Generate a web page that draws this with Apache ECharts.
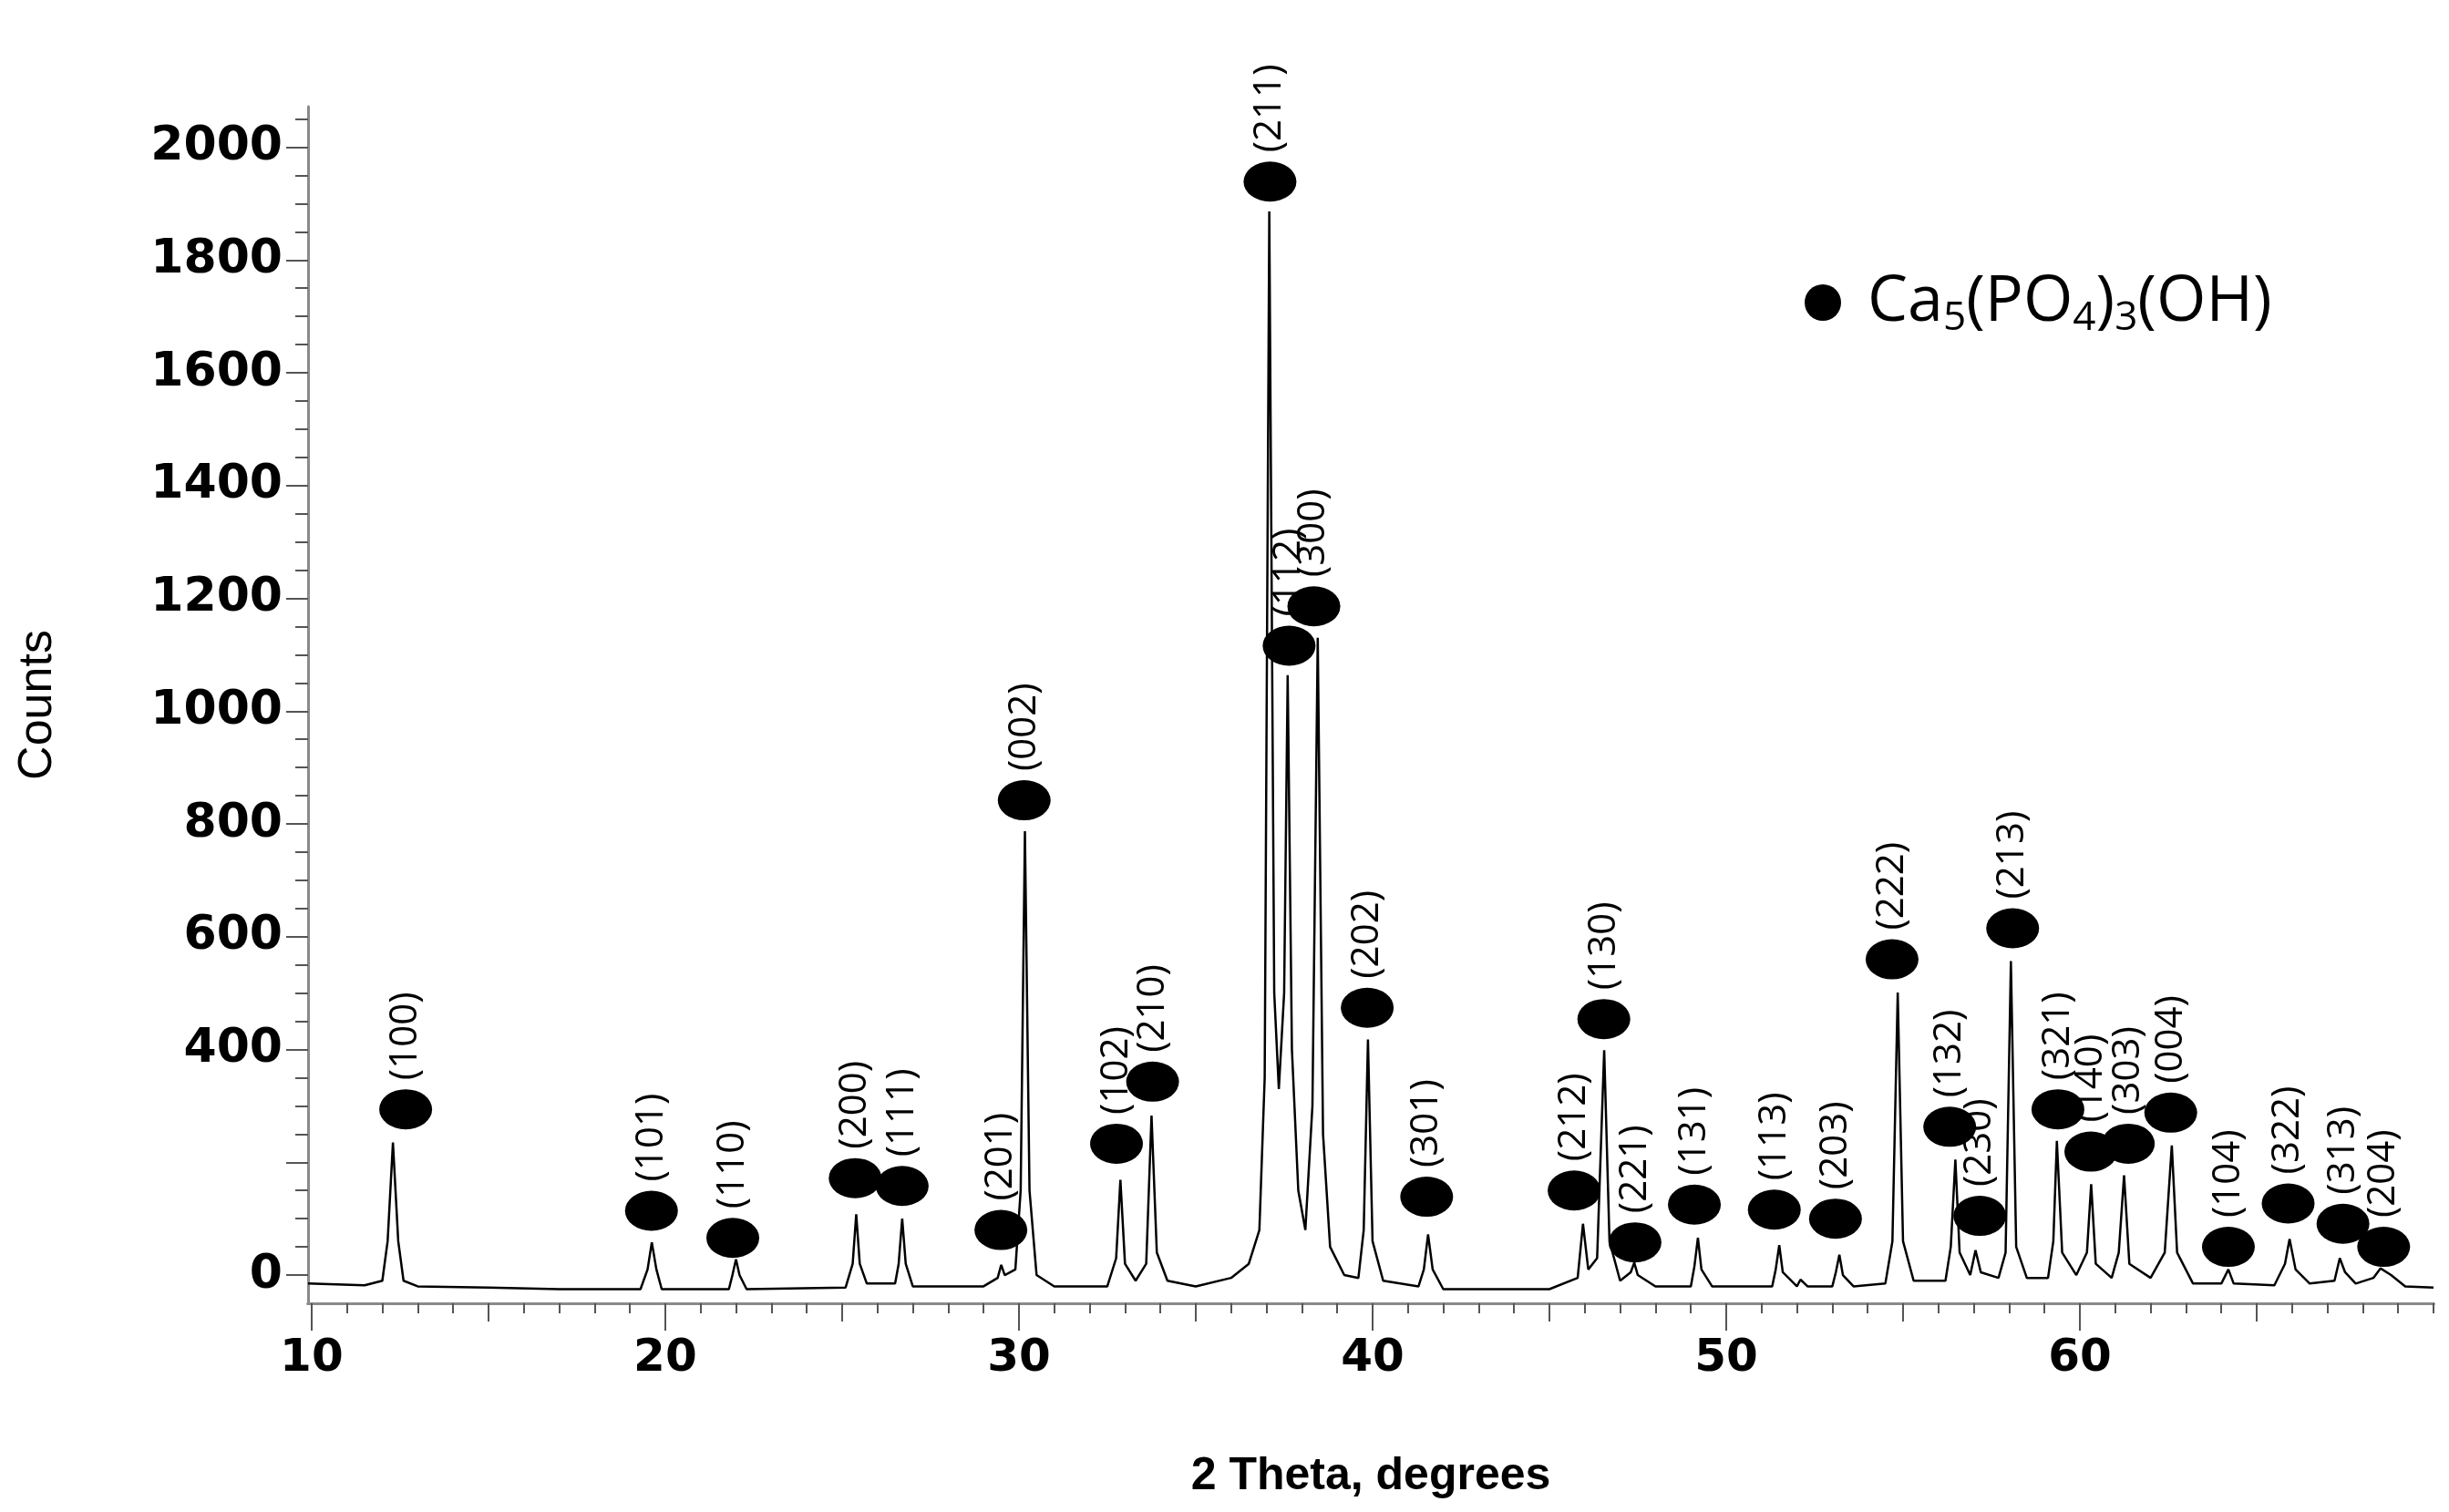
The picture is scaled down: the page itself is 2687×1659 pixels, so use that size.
<!DOCTYPE html>
<html><head><meta charset="utf-8">
<script src="https://cdn.jsdelivr.net/npm/echarts@6/dist/echarts.min.js"></script>
<style>html,body{margin:0;padding:0;background:#fff}#c{width:2687px;height:1659px}</style>
</head><body><div id="c"></div>
<script>
// XRD trace points [2theta, counts]
const trace = [[9.9,-15],[11.5,-18],[12.0,-10],[12.15,60],[12.3,235],[12.45,60],[12.6,-10],[13,-20],[15,-22],[17,-25],[19.3,-25],[19.5,10],[19.62,58],[19.75,10],[19.9,-25],[21.8,-25],[21.9,0],[22.0,28],[22.1,0],[22.3,-25],[25.1,-22],[25.3,20],[25.4,108],[25.5,20],[25.7,-15],[26.5,-15],[26.6,20],[26.7,100],[26.8,20],[27.0,-20],[29.0,-20],[29.4,-5],[29.5,18],[29.6,0],[29.9,10],[30.05,150],[30.17,787],[30.3,150],[30.5,0],[31,-20],[32.5,-20],[32.75,30],[32.87,169],[33.0,20],[33.3,-10],[33.6,20],[33.75,283],[33.9,40],[34.2,-10],[35,-20],[36,-5],[36.5,20],[36.8,80],[36.95,350],[37.08,1886],[37.22,500],[37.35,330],[37.5,500],[37.6,1064],[37.72,400],[37.9,150],[38.1,80],[38.3,300],[38.45,1130],[38.6,250],[38.8,50],[39.2,0],[39.6,-5],[39.75,80],[39.87,418],[40.0,60],[40.3,-10],[41.3,-20],[41.45,10],[41.57,72],[41.7,10],[42,-25],[45,-25],[45.8,-5],[45.95,91],[46.1,10],[46.35,30],[46.55,399],[46.7,60],[47.0,-10],[47.3,5],[47.4,22],[47.5,0],[48,-20],[49.0,-20],[49.1,15],[49.2,66],[49.3,10],[49.6,-20],[51.3,-20],[51.4,10],[51.5,53],[51.6,5],[52,-20],[52.1,-8],[52.3,-20],[53.0,-20],[53.1,5],[53.2,36],[53.3,0],[53.6,-20],[54.5,-15],[54.7,60],[54.85,501],[55.0,60],[55.3,-10],[56.2,-10],[56.35,50],[56.48,205],[56.6,40],[56.9,0],[57.05,44],[57.2,5],[57.7,-5],[57.9,40],[58.05,557],[58.2,50],[58.5,-5],[59.1,-5],[59.25,60],[59.35,238],[59.5,40],[59.9,0],[60.2,40],[60.32,161],[60.45,20],[60.9,-5],[61.1,40],[61.25,177],[61.4,20],[62.0,-5],[62.4,40],[62.6,230],[62.75,40],[63.2,-15],[64.0,-15],[64.2,10],[64.35,-15],[65.5,-18],[65.8,20],[65.93,64],[66.1,10],[66.5,-15],[67.2,-10],[67.35,30],[67.5,5],[67.8,-15],[68.3,-5],[68.5,12],[68.8,0],[69.2,-20],[70,-22]];
// peak marker positions and Miller indices
const markerX = [12.66,19.61,21.91,25.37,26.7,29.49,30.15,32.76,33.78,37.1,37.64,38.34,39.85,41.53,45.7,46.54,47.42,49.1,51.36,53.09,54.69,56.32,57.17,58.1,59.38,60.31,61.37,62.57,64.2,65.89,67.44,68.59];
const markerY = [294,114,66,172,158,80,842,233,343,1939,1116,1186,474,139,150,454,58,125,116,100,560,263,105,615,294,219,233,288,50,127,91,50];
const hkl = ['(100)','(101)','(110)','(200)','(111)','(201)','(002)','(102)','(210)','(211)','(112)','(300)','(202)','(301)','(212)','(130)','(221)','(131)','(113)','(203)','(222)','(132)','(230)','(213)','(321)','(140)','(303)','(004)','(104)','(322)','(313)','(204)'];
const yLabels = [0,400,600,800,1000,1200,1400,1600,1800,2000];
const yMajor = [0,200,400,600,800,1000,1200,1400,1600,1800,2000];
const xLabels = [10,20,30,40,50,60];

const yMinor=[]; for(let v=0; v<=2050; v+=50) yMinor.push(v);
const xMid=[15,25,35,45,55,65]; const xMinor=[]; for(let v=10; v<=70; v++) xMinor.push(v);
const axC='#8a8a8a';
const ch = echarts.init(document.getElementById('c'));
const common = {min:9.9,max:70,type:'value',position:'bottom',offset:0,splitLine:{show:false},axisLine:{onZero:false,lineStyle:{color:axC,width:3}}};
ch.setOption({
  animation:false,
  grid:{left:338,right:17,top:117,bottom:229},
  legend:{left:1975,top:292,itemWidth:44,itemHeight:40,icon:'circle',itemGap:10,
    formatter:()=>'{a|Ca}{s|5}{a|(PO}{s|4}{a|)}{s|3}{a|(OH)}',
    textStyle:{padding:[0,0,0,22],rich:{a:{fontSize:70,fontFamily:'Open Sans',color:'#000'},s:{fontSize:44,fontFamily:'Open Sans',color:'#000',verticalAlign:'bottom',padding:[34,0,0,0]}}},
    data:[{name:'Ca5(PO4)3(OH)',itemStyle:{color:'#000',opacity:1}}]},
  xAxis:[
    Object.assign({},common,{name:'2 Theta, degrees',nameLocation:'middle',nameGap:165,
      nameTextStyle:{fontSize:50,fontWeight:'bold',fontFamily:'Liberation Sans',color:'#000'},
      axisTick:{customValues:xLabels,length:30,lineStyle:{color:'#555',width:2}},
      axisLabel:{customValues:xLabels,fontSize:50,fontWeight:'bold',fontFamily:'DejaVu Sans',color:'#000',margin:36,formatter:v=>String(v)}}),
    Object.assign({},common,{axisTick:{customValues:xMid,length:20,lineStyle:{color:'#555',width:2}},axisLabel:{show:false}}),
    Object.assign({},common,{axisTick:{customValues:xMinor,length:11,lineStyle:{color:'#555',width:2}},axisLabel:{show:false}})
  ],
  yAxis:[
    {type:'value',min:-50,max:2072,position:'left',name:'Counts',nameLocation:'middle',nameGap:270,
      nameTextStyle:{fontSize:52,fontFamily:'Liberation Sans',color:'#000'},
      splitLine:{show:false},axisLine:{show:true,lineStyle:{color:axC,width:3}},
      axisTick:{customValues:yMajor,length:24,lineStyle:{color:'#555',width:2}},
      axisLabel:{customValues:yLabels,fontSize:52,fontWeight:'bold',fontFamily:'DejaVu Sans',color:'#000',margin:28,formatter:v=>String(v)}},
    {type:'value',min:-50,max:2072,position:'left',offset:0,splitLine:{show:false},axisLine:{show:false},
      axisTick:{customValues:yMinor,length:14,lineStyle:{color:'#555',width:2}},axisLabel:{show:false}}
  ],
  series:[
    {type:'line',data:trace,showSymbol:false,lineStyle:{color:'#000',width:2.5},z:2},
    {type:'scatter',name:'Ca5(PO4)3(OH)',symbol:'circle',symbolSize:[58,44],itemStyle:{color:'#000',opacity:1},z:3,
      data:markerX.map((x,i)=>({value:[x,markerY[i]],name:hkl[i]})),
      label:{show:true,position:'top',rotate:90,align:'left',verticalAlign:'middle',distance:10,
        formatter:p=>p.name,fontSize:42,fontFamily:'Open Sans',color:'#000'}}
  ]
});
</script></body></html>
